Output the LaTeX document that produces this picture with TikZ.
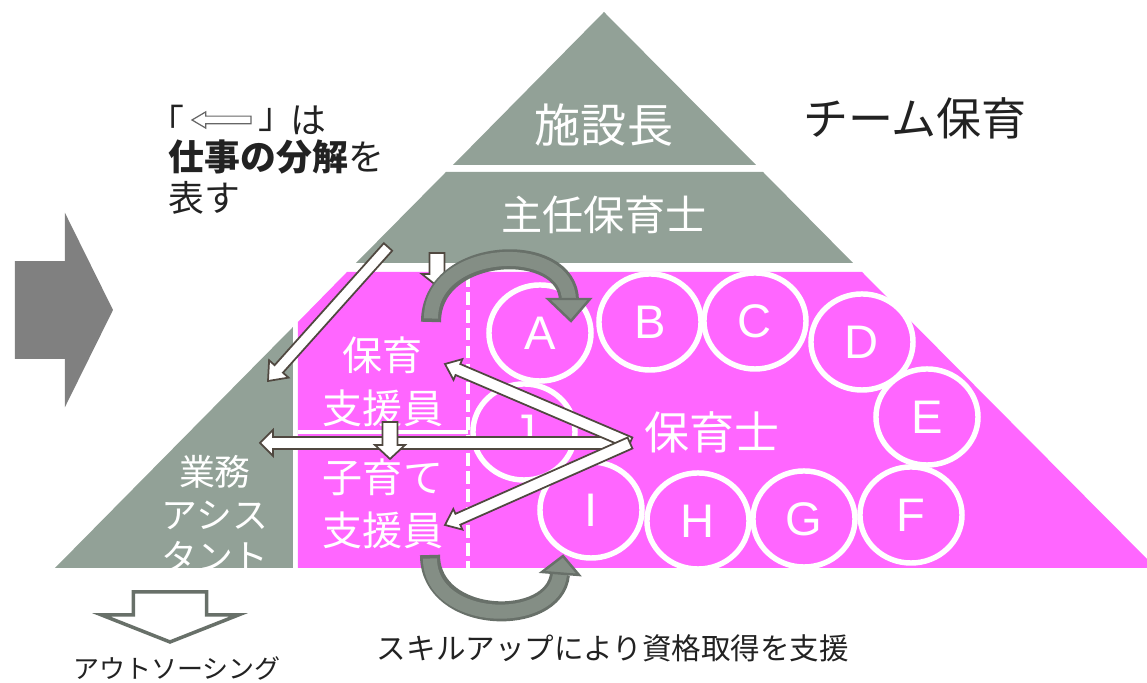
\documentclass[tikz,border=0pt]{standalone}
\usepackage{fontspec}
\setmainfont{Noto Sans CJK JP}
\newfontfamily\latinfont{Liberation Sans}
\usetikzlibrary{calc,shapes.geometric}
\definecolor{sage}{RGB}{146,161,151}
\definecolor{pinkfill}{RGB}{255,102,255}
\definecolor{bigarrow}{RGB}{128,128,128}
\definecolor{curvefill}{RGB}{132,142,133}
\definecolor{curveline}{RGB}{104,112,105}
\definecolor{arrowline}{RGB}{80,72,64}
\definecolor{textdark}{RGB}{34,34,34}
\newcommand{\blockarrow}[6][]{%
  \coordinate (ba) at ($(#3)!#6!(#2)$);
  \path[#1] ($(#2)!#4!90:(#3)$) -- ($(ba)!#4!-90:(#2)$) -- ($(ba)!#5!-90:(#2)$) -- (#3)
    -- ($(ba)!#5!90:(#2)$) -- ($(ba)!#4!90:(#2)$) -- ($(#2)!#4!-90:(#3)$) -- cycle;}
\begin{document}
\begin{tikzpicture}[x=0.01cm,y=-0.01cm,line join=round,
  band/.style={fill=sage},
  member/.style={ellipse,draw=white,fill=pinkfill,line width=1.55pt,minimum width=1.02cm,minimum height=0.96cm,inner sep=0pt,text=white,font=\latinfont\fontsize{13.4pt}{13pt}\selectfont},
  rank/.style={text=white,inner sep=0pt,align=center},
  legtext/.style={text=textdark,inner sep=0pt,font=\fontsize{10.2pt}{12pt}\selectfont},
  whitearrow/.style={fill=white,draw=arrowline,line width=0.5pt,line join=miter},
  outlinearrow/.style={fill=white,draw=curveline,line width=1pt,line join=miter},
  legarrow/.style={fill=white,draw=black!60,line width=0.35pt,line join=miter},
  curvebody/.style={draw=curveline,line width=5.7pt},
  curvecore/.style={draw=curvefill,line width=4pt,shorten <=1pt},
  curvehead/.style={fill=curvefill,draw=curveline,line width=0.7pt,line join=miter}]
\useasboundingbox (0,0) rectangle (1147,683);
\fill[band] (604,12) -- (756,165) -- (453,165) -- cycle;
\fill[band] (446,172) -- (763,172) -- (853,263) -- (356,263) -- cycle;
\fill[band] (293,327) -- (293,568) -- (55,568) -- cycle;
\fill[pinkfill] (347,272) -- (862,272) -- (1156,568) -- (298,568) -- (298,322) -- cycle;
\draw[white,line width=1.4pt] (298,432) -- (468,432);
\draw[white,line width=1.3pt,dash pattern=on 3.6pt off 1.5pt] (468,274) -- (468,568);

\coordinate (bigtail) at (15,310);
\coordinate (bigtip) at (113,310);
\blockarrow[fill=bigarrow]{bigtail}{bigtip}{13.9pt}{27.7pt}{13.7pt}

\node[rank,font=\fontsize{13.1pt}{15pt}\selectfont] (head) at (604,125) {施設長};
\node[rank,font=\fontsize{11.7pt}{14pt}\selectfont] (chief) at (604,215) {主任保育士};
\node[text=textdark,inner sep=0pt,font=\fontsize{12.8pt}{15pt}\selectfont] (team) at (915,118) {チーム保育};

\node[member] (mA) at (540,333) {A};
\node[member] (mB) at (650,322) {B};
\node[member] (mC) at (755,321) {C};
\node[member] (mD) at (862,342) {D};
\node[member] (mE) at (927,417) {E};
\node[member] (mF) at (911,515) {F};
\node[member] (mG) at (804,519) {G};
\node[member] (mH) at (698,521) {H};
\node[member] (mI) at (591,510) {I};
\node[member] (mJ) at (524,432) {J};

\node[rank,font=\fontsize{11.4pt}{15.1pt}\selectfont] (aide) at (383,382) {保育\\支援員};
\node[rank,font=\fontsize{11.4pt}{15.1pt}\selectfont] (childaide) at (383,504) {子育て\\支援員};
\node[rank,font=\fontsize{10.2pt}{12.1pt}\selectfont] (assist) at (215,514) {業務\\アシス\\タント};
\node[rank,font=\fontsize{12.8pt}{15pt}\selectfont] (nurse) at (712,432) {保育士};

\node[legtext] (lq) at (166,120) {「};
\node[legtext] (rq) at (276,120) {」};
\node[legtext] (ha) at (308,120) {は};
\node[legtext,anchor=west] (legtwo) at (168,157) {\bfseries 仕事の分解\mdseries を};
\node[legtext,anchor=west] (legthree) at (168,198) {表す};
\coordinate (legtail) at (251,120);
\coordinate (legtip) at (192,120);
\blockarrow[legarrow]{legtail}{legtip}{1.1pt}{2.3pt}{3.9pt}

\coordinate (fromchief) at (388,247);
\coordinate (toassist) at (268,381);
\blockarrow[whitearrow]{fromchief}{toassist}{1.6pt}{3.7pt}{4.6pt}
\coordinate (downtop) at (437,253);
\coordinate (downtopend) at (437,286);
\blockarrow[whitearrow]{downtop}{downtopend}{2.1pt}{4.3pt}{3.4pt}
\coordinate (fromnurse) at (630,443);
\coordinate (toassisttwo) at (260,443);
\coordinate (toaide) at (445,364);
\coordinate (tochildaide) at (445,525);
\blockarrow[whitearrow]{fromnurse}{toassisttwo}{1.7pt}{3.7pt}{3.7pt}
\blockarrow[whitearrow]{fromnurse}{toaide}{1.7pt}{3.2pt}{4pt}
\blockarrow[whitearrow]{fromnurse}{tochildaide}{1.7pt}{3.2pt}{4pt}
\coordinate (downmid) at (390,422);
\coordinate (downmidend) at (390,459);
\blockarrow[whitearrow]{downmid}{downmidend}{2.1pt}{4.3pt}{4pt}

\coordinate (looptail) at (431,322);
\coordinate (loopend) at (569,301);
\draw[curvebody] (looptail) .. controls (431,245) and (569,240) .. (loopend);
\draw[curvecore] (looptail) .. controls (431,245) and (569,240) .. (loopend);
\draw[curvehead] (548,299) -- (590,299) -- (571,321) -- cycle;
\coordinate (skilltail) at (430,555);
\coordinate (skillend) at (560,574);
\draw[curvebody] (skilltail) .. controls (430,625) and (555,628) .. (skillend);
\draw[curvecore] (skilltail) .. controls (430,625) and (555,628) .. (skillend);
\draw[curvehead] (542,572) -- (579,575) -- (563,556) -- cycle;

\coordinate (outtail) at (170,592);
\coordinate (outtip) at (170,642);
\blockarrow[outlinearrow]{outtail}{outtip}{10.4pt}{19.5pt}{7.7pt}
\node[text=textdark,inner sep=0pt,font=\fontsize{8.4pt}{10pt}\selectfont] (skillup) at (613,648) {スキルアップにより資格取得を支援};
\node[text=textdark,inner sep=0pt,font=\fontsize{7.4pt}{9pt}\selectfont] (outsourcing) at (177,668) {アウトソーシング};
\end{tikzpicture}
\end{document}
